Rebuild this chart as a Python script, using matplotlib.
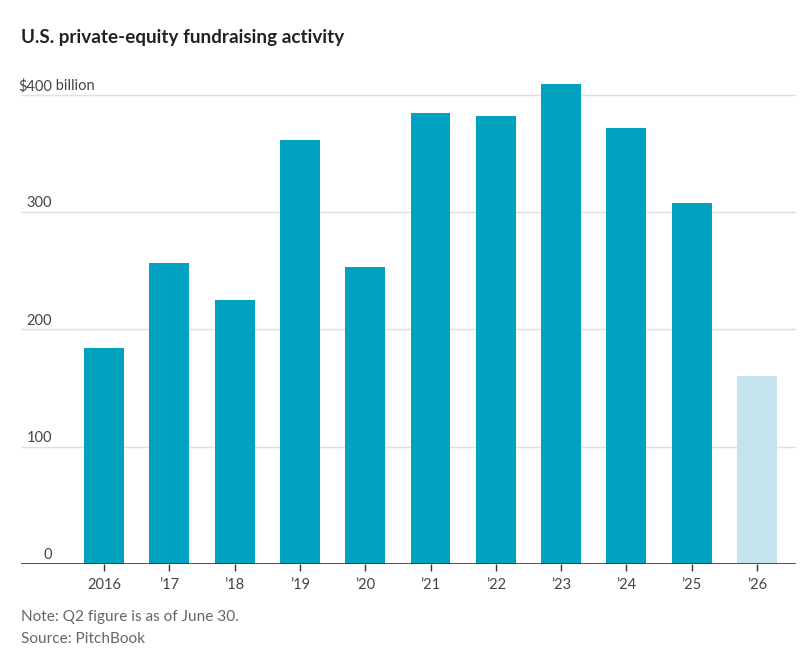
import matplotlib.pyplot as plt

plt.rcParams['font.family'] = ['Lato', 'DejaVu Sans']

years = ['2016', '\u201917', '\u201918', '\u201919', '\u201920', '\u201921',
         '\u201922', '\u201923', '\u201924', '\u201925', '\u201926']
values = [184, 257, 225, 362, 253, 385, 382, 409, 372, 308, 160]
partial = [False] * 10 + [True]

ytick_vals = [0, 100, 200, 300, 400]
ytick_labels = ['0', '100', '200', '300', '$400']

dark = '#00A2BF'
light = '#C5E3EC'

fig = plt.figure(figsize=(8.1, 6.52), dpi=100)
ax = fig.add_axes([21 / 810, 88 / 652, 775 / 810, (564 - 71.5) / 652])

x = list(range(len(years)))
colors = [light if p else dark for p in partial]
ax.bar(x, values, width=0.61, color=colors, zorder=3)

ax.set_xlim(-1.271, 10.597)
ax.set_ylim(0, 420)

for v in ytick_vals[1:]:
    ax.axhline(v, color='#e0e0e0', lw=1, zorder=1)
ax.axhline(0, color='#333333', lw=1.2, zorder=4)

trans = ax.get_yaxis_transform()
for v, lab in zip(ytick_vals, ytick_labels):
    ax.text(31 / 775, v + 1.5, lab, transform=trans, ha='right', va='bottom',
            fontsize=10.5, color='#444444')
ax.text(31 / 775, 401.5, ' billion', transform=trans, ha='left', va='bottom',
        fontsize=10.5, color='#444444')

ax.set_yticks([])
ax.set_xticks(x)
ax.set_xticklabels(years, fontsize=10.5, color='#444444')
ax.tick_params(axis='x', length=5, width=1, color='#333333', pad=5)
for s in ax.spines.values():
    s.set_visible(False)

fig.text(21 / 810, 1 - 37 / 652, 'U.S. private-equity fundraising activity',
         fontsize=13.6, fontweight='bold', color='#222222', va='center')
fig.text(21 / 810, 1 - 617 / 652, 'Note: Q2 figure is as of June 30.',
         fontsize=11.1, color='#666666', va='center')
fig.text(21 / 810, 1 - 639 / 652, 'Source: PitchBook',
         fontsize=11.1, color='#666666', va='center')

fig.savefig('out.png', dpi=100)
